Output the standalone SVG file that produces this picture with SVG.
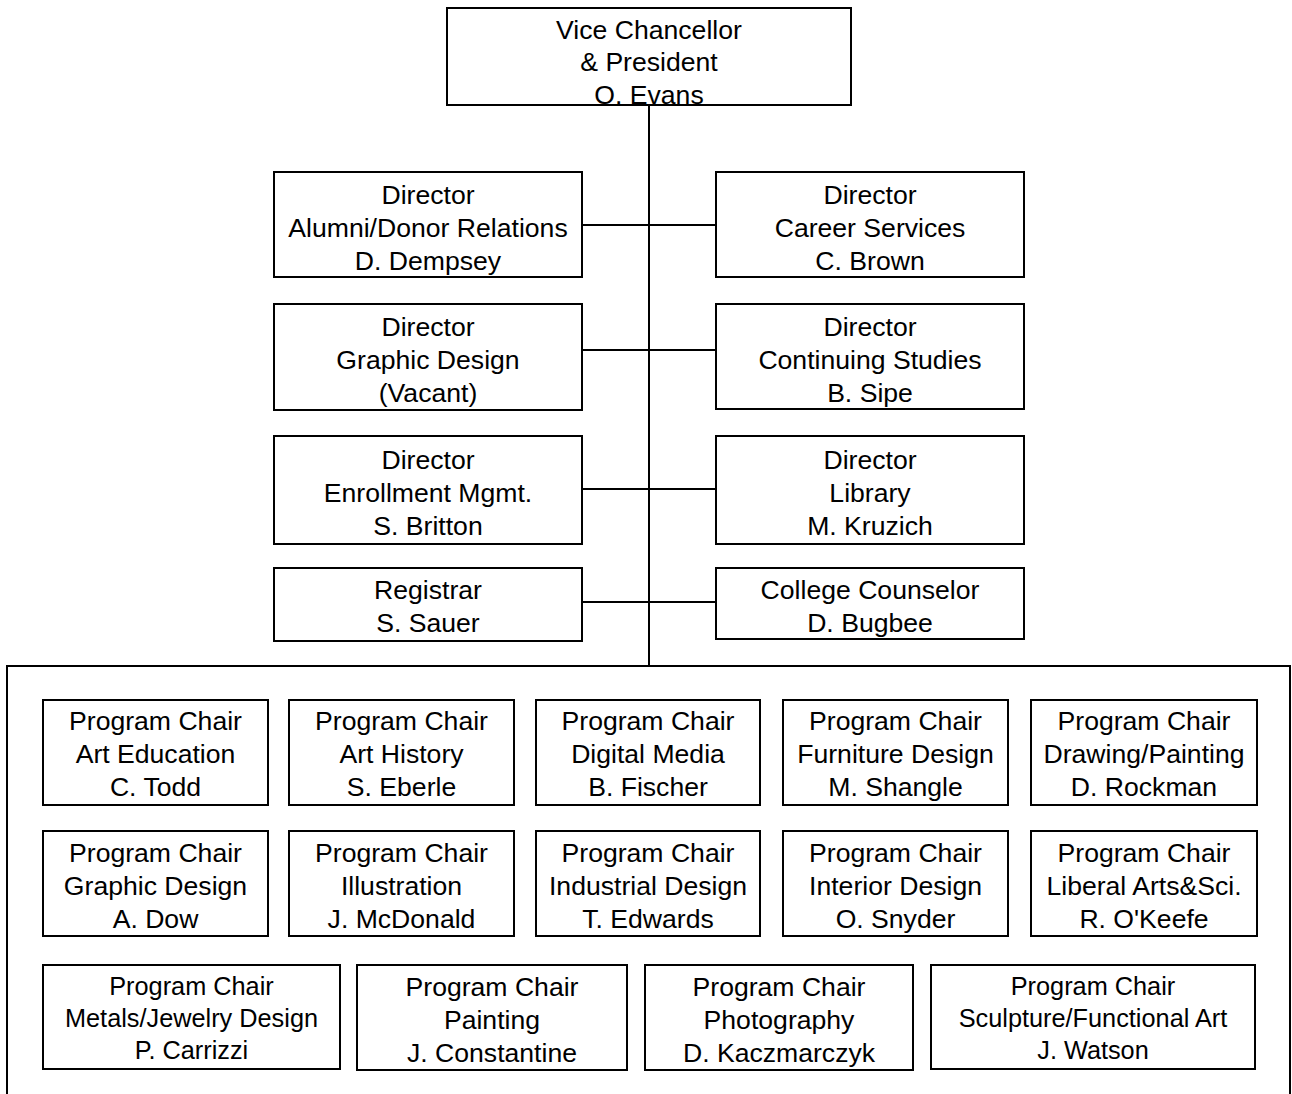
<svg xmlns="http://www.w3.org/2000/svg" width="1292" height="1094" viewBox="0 0 1292 1094">
<style>
rect{fill:#fff;stroke:#000;stroke-width:2}
.c{stroke:#000;stroke-width:2;fill:none}
text{font-family:"Liberation Sans",Arial,sans-serif;font-size:26.6px;fill:#000;text-anchor:middle}
.s{font-size:25.3px}
</style>
<rect width="1292" height="1094" style="stroke:none"/>
<g id="container"><path class="c" d="M7,1100 V666 H1290 V1100"/></g>
<g id="connectors">
<path class="c" d="M649,105 V666"/>
<path class="c" d="M582,225 H716"/>
<path class="c" d="M582,350 H716"/>
<path class="c" d="M582,489 H716"/>
<path class="c" d="M582,602 H716"/>
</g>
<g id="vc"><rect x="447" y="8" width="404" height="97"/><text x="649" y="38.5">Vice Chancellor</text><text x="649" y="71">&amp; President</text><text x="649" y="103.5">O. Evans</text></g>
<g id="d-alumni"><rect x="274" y="172" width="308" height="105"/><text x="428" y="203.5">Director</text><text x="428" y="236.5">Alumni/Donor Relations</text><text x="428" y="269.5">D. Dempsey</text></g>
<g id="d-career"><rect x="716" y="172" width="308" height="105"/><text x="870" y="203.5">Director</text><text x="870" y="236.5">Career Services</text><text x="870" y="269.5">C. Brown</text></g>
<g id="d-graphic"><rect x="274" y="304" width="308" height="106"/><text x="428" y="336">Director</text><text x="428" y="369">Graphic Design</text><text x="428" y="402">(Vacant)</text></g>
<g id="d-continuing"><rect x="716" y="304" width="308" height="105"/><text x="870" y="336">Director</text><text x="870" y="369">Continuing Studies</text><text x="870" y="402">B. Sipe</text></g>
<g id="d-enroll"><rect x="274" y="436" width="308" height="108"/><text x="428" y="469">Director</text><text x="428" y="502">Enrollment Mgmt.</text><text x="428" y="535">S. Britton</text></g>
<g id="d-library"><rect x="716" y="436" width="308" height="108"/><text x="870" y="469">Director</text><text x="870" y="502">Library</text><text x="870" y="535">M. Kruzich</text></g>
<g id="registrar"><rect x="274" y="568" width="308" height="73"/><text x="428" y="599">Registrar</text><text x="428" y="632">S. Sauer</text></g>
<g id="counselor"><rect x="716" y="568" width="308" height="71"/><text x="870" y="599">College Counselor</text><text x="870" y="632">D. Bugbee</text></g>
<g id="pc-arted"><rect x="43" y="700" width="225" height="105"/><text x="155.5" y="729.5">Program Chair</text><text x="155.5" y="762.5">Art Education</text><text x="155.5" y="795.5">C. Todd</text></g>
<g id="pc-arthist"><rect x="289" y="700" width="225" height="105"/><text x="401.5" y="729.5">Program Chair</text><text x="401.5" y="762.5">Art History</text><text x="401.5" y="795.5">S. Eberle</text></g>
<g id="pc-digital"><rect x="536" y="700" width="224" height="105"/><text x="648" y="729.5">Program Chair</text><text x="648" y="762.5">Digital Media</text><text x="648" y="795.5">B. Fischer</text></g>
<g id="pc-furniture"><rect x="783" y="700" width="225" height="105"/><text x="895.5" y="729.5">Program Chair</text><text x="895.5" y="762.5">Furniture Design</text><text x="895.5" y="795.5">M. Shangle</text></g>
<g id="pc-drawing"><rect x="1031" y="700" width="226" height="105"/><text x="1144" y="729.5">Program Chair</text><text x="1144" y="762.5">Drawing/Painting</text><text x="1144" y="795.5">D. Rockman</text></g>
<g id="pc-graphic"><rect x="43" y="831" width="225" height="105"/><text x="155.5" y="861.5">Program Chair</text><text x="155.5" y="894.5">Graphic Design</text><text x="155.5" y="927.5">A. Dow</text></g>
<g id="pc-illus"><rect x="289" y="831" width="225" height="105"/><text x="401.5" y="861.5">Program Chair</text><text x="401.5" y="894.5">Illustration</text><text x="401.5" y="927.5">J. McDonald</text></g>
<g id="pc-industrial"><rect x="536" y="831" width="224" height="105"/><text x="648" y="861.5">Program Chair</text><text x="648" y="894.5">Industrial Design</text><text x="648" y="927.5">T. Edwards</text></g>
<g id="pc-interior"><rect x="783" y="831" width="225" height="105"/><text x="895.5" y="861.5">Program Chair</text><text x="895.5" y="894.5">Interior Design</text><text x="895.5" y="927.5">O. Snyder</text></g>
<g id="pc-liberal"><rect x="1031" y="831" width="226" height="105"/><text x="1144" y="861.5">Program Chair</text><text x="1144" y="894.5">Liberal Arts&amp;Sci.</text><text x="1144" y="927.5">R. O'Keefe</text></g>
<g id="pc-metals"><rect x="43" y="965" width="297" height="104"/><text class="s" x="191.5" y="995">Program Chair</text><text class="s" x="191.5" y="1027">Metals/Jewelry Design</text><text class="s" x="191.5" y="1059">P. Carrizzi</text></g>
<g id="pc-painting"><rect x="357" y="965" width="270" height="105"/><text x="492" y="995.5">Program Chair</text><text x="492" y="1028.5">Painting</text><text x="492" y="1061.5">J. Constantine</text></g>
<g id="pc-photo"><rect x="645" y="965" width="268" height="105"/><text x="779" y="995.5">Program Chair</text><text x="779" y="1028.5">Photography</text><text x="779" y="1061.5">D. Kaczmarczyk</text></g>
<g id="pc-sculpture"><rect x="931" y="965" width="324" height="104"/><text class="s" x="1093" y="995">Program Chair</text><text class="s" x="1093" y="1027">Sculpture/Functional Art</text><text class="s" x="1093" y="1059">J. Watson</text></g>
</svg>
